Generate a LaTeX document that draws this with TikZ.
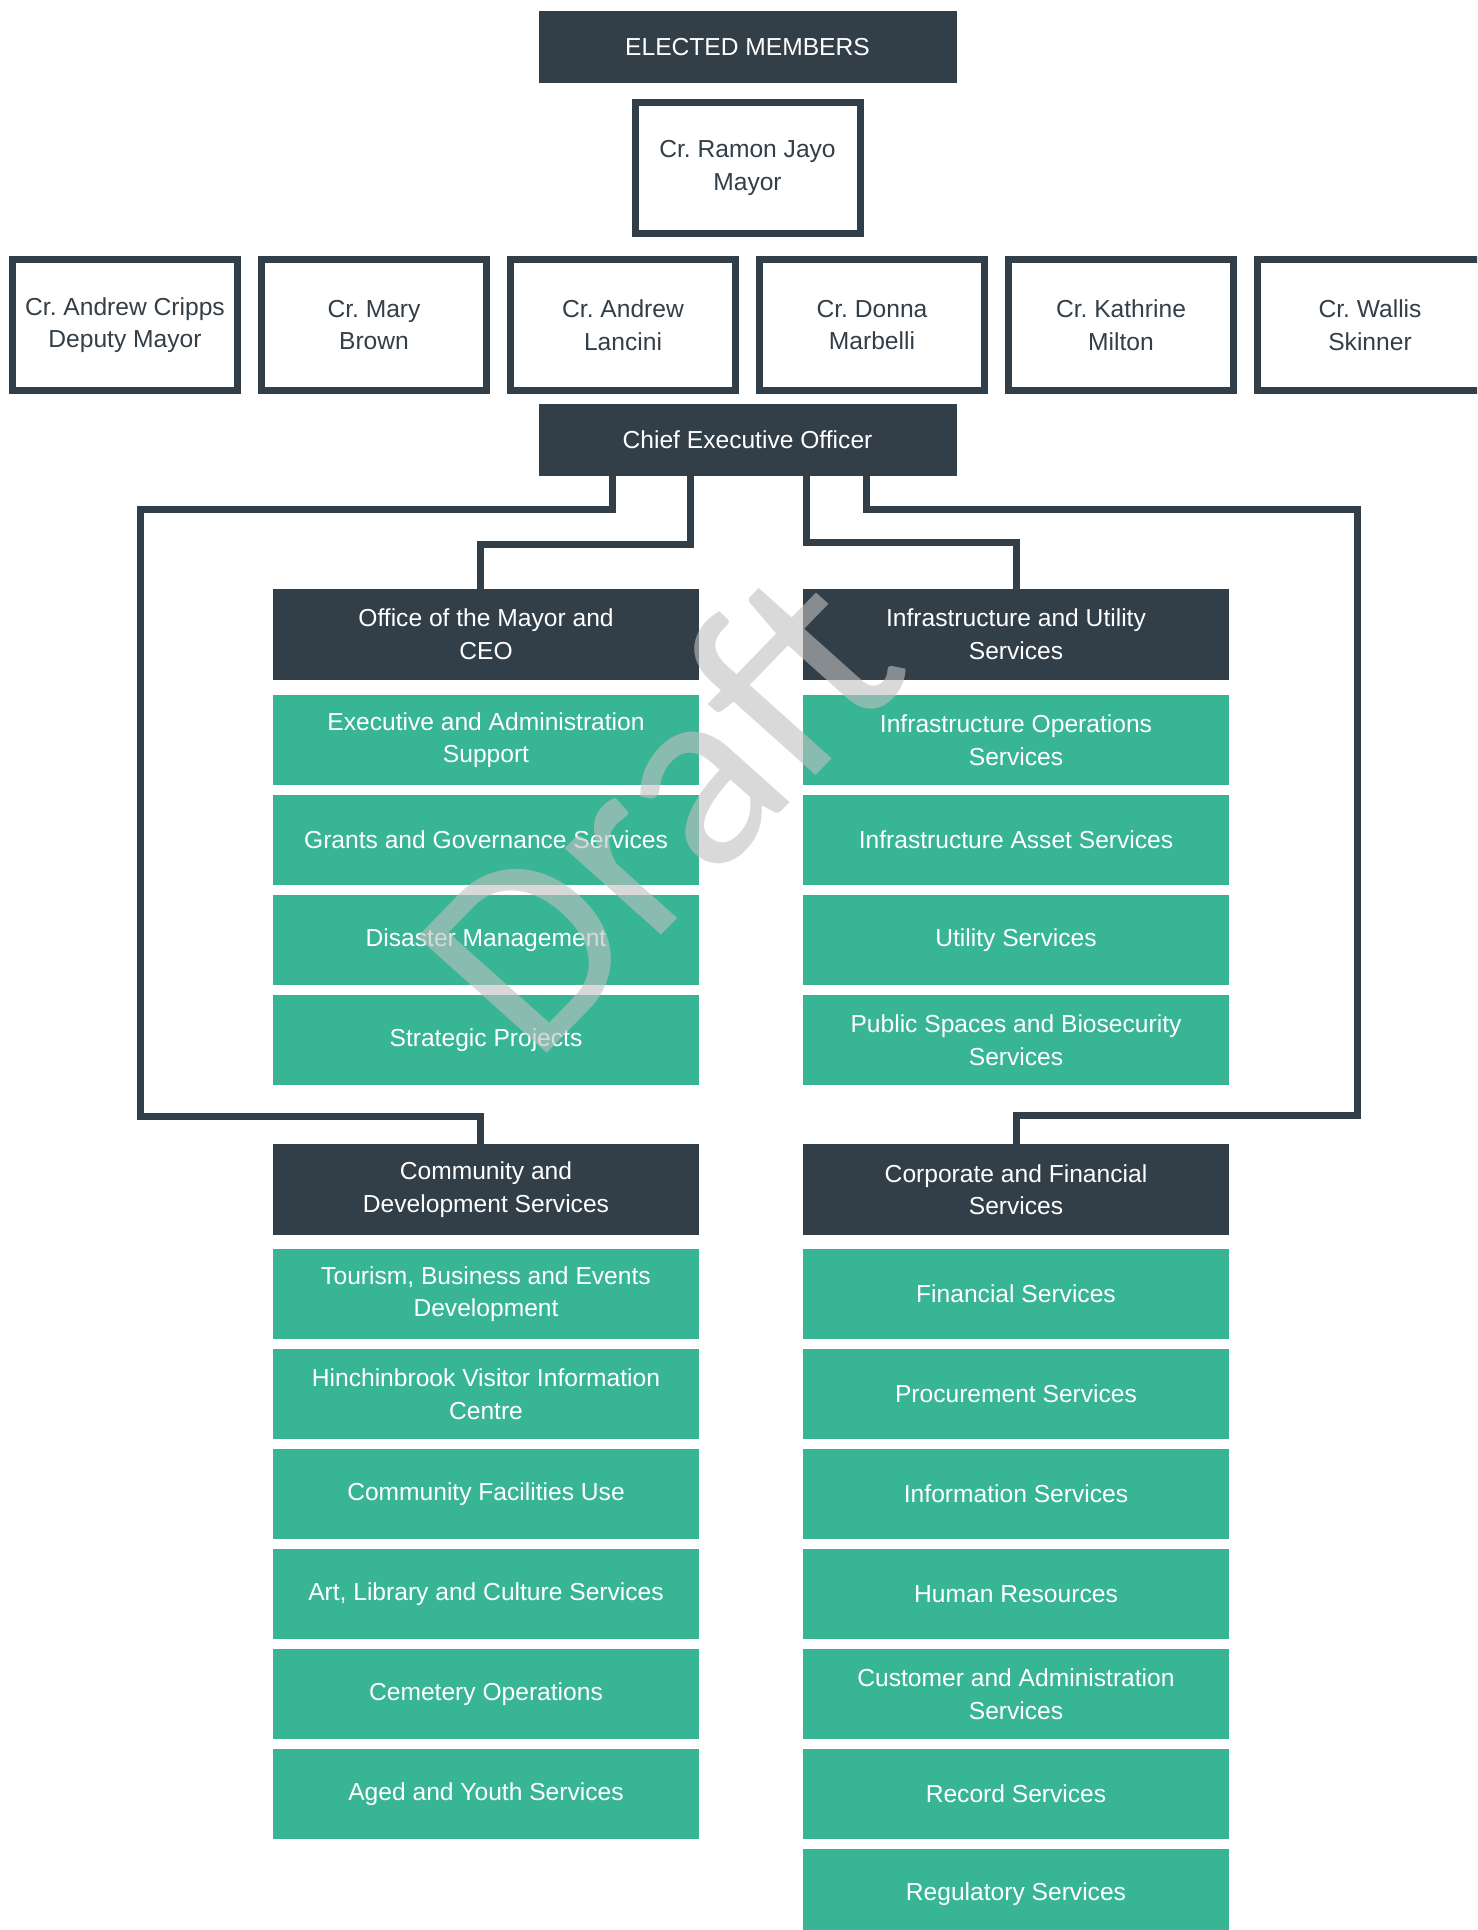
\documentclass[tikz,border=0pt]{standalone}
\usepackage{fontspec}
\setmainfont{Liberation Sans}
\newfontfamily\draftfont{Carlito}
\usepackage{tikz}
\definecolor{slate}{HTML}{323E48}
\definecolor{unitgreen}{HTML}{38B595}
\definecolor{draftgray}{RGB}{192,192,192}
\newcommand*\unitwd{213pt}
\newcommand*\unitht{45pt}
\newcommand*\seatwd{112.5pt}
\newcommand*\seatht{65.5pt}
\tikzset{
    boxtext/.style  = {font=\fontsize{12.3pt}{16.3pt}\selectfont,
                      align=center, inner sep=0pt, outer sep=0pt},
    topbox/.style   = {boxtext, fill=slate, text=white,
                      minimum width=209pt, minimum height=36pt},
    headbox/.style  = {boxtext, fill=slate, text=white,
                      minimum width=\unitwd, minimum height=45.5pt},
    unitbox/.style  = {headbox, fill=unitgreen, minimum height=\unitht},
    seatbox/.style  = {boxtext, draw=slate, line width=3.5pt, text=slate,
                      minimum width=\seatwd, minimum height=\seatht},
    link/.style     = {draw=slate, line width=3.5pt},
    watermark/.style= {font=\draftfont\fontsize{138pt}{138pt}\selectfont,
                      text=draftgray, text opacity=0.6, rotate=47, inner sep=0pt},
  }

\begin{document}
\frenchspacing
\begin{tikzpicture}[x=0.5pt, y=-0.5pt]
    \useasboundingbox (0,0) rectangle (1477,1930);
    \clip (0,0) rectangle (1477,1930);

    % Council on top
    \node[topbox]  (elected) at (747.5,47)  {ELECTED MEMBERS};
    \node[seatbox] (mayor)   at (747.5,168) {Cr. Ramon Jayo\\Mayor};
    \foreach \who [count=\i from 0] in {{Cr. Andrew Cripps\\Deputy Mayor},
        {Cr. Mary\\Brown}, {Cr. Andrew\\Lancini}, {Cr. Donna\\Marbelli},
        {Cr. Kathrine\\Milton}, {Cr. Wallis\\Skinner}} {
        \node[seatbox] (seat-\i) at (125+249*\i,325) {\who};
    }

    % CEO and the four directorates
    \node[topbox]  (ceo)   at (747.5,440)  {Chief Executive Officer};
    \node[headbox] (ofc)   at (486,634.5)  {Office of the Mayor and\\CEO};
    \node[headbox] (infra) at (1016,634.5) {Infrastructure and Utility\\Services};
    \node[headbox] (comm)  at (486,1189.5) {Community and\\Development Services};
    \node[headbox] (corp)  at (1016,1189.5){Corporate and Financial\\Services};

    % Units under each directorate
    \foreach \u [count=\k from 0] in {{Executive and Administration\\Support},
        {Grants and Governance Services}, {Disaster Management},
        {Strategic Projects}} {
        \node[unitbox] (ofc-\k) at (486,740+100*\k) {\u};
    }
    \foreach \u [count=\k from 0] in {{Infrastructure Operations\\Services},
        {Infrastructure Asset Services}, {Utility Services},
        {Public Spaces and Biosecurity\\Services}} {
        \node[unitbox] (infra-\k) at (1016,740+100*\k) {\u};
    }
    \foreach \u [count=\k from 0] in {{Tourism, Business and Events\\Development},
        {Hinchinbrook Visitor Information\\Centre}, {Community Facilities Use},
        {Art, Library and Culture Services}, {Cemetery Operations},
        {Aged and Youth Services}} {
        \node[unitbox] (comm-\k) at (486,1294+100*\k) {\u};
    }
    \foreach \u [count=\k from 0] in {{Financial Services},
        {Procurement Services}, {Information Services}, {Human Resources},
        {Customer and Administration\\Services}, {Record Services},
        {Regulatory Services}} {
        \node[unitbox] (corp-\k) at (1016,1294+100*\k) {\u};
    }

    % Lines from the CEO
    \coordinate (railL) at (140,510);
    \coordinate (footL) at (140,1116);
    \coordinate (railR) at (1357,510);
    \coordinate (footR) at (1357,1115);
    \draw[link] ([xshift=-67.75pt]ceo.south) |- (railL) -- (footL) -| ([xshift=-3pt]comm.north);
    \draw[link] ([xshift=-28.75pt]ceo.south) -- ++(0,69) -| ([xshift=-3pt]ofc.north);
    \draw[link] ([xshift=29.25pt]ceo.south) -- ++(0,66.5) -| (infra.north);
    \draw[link] ([xshift=59.25pt]ceo.south) |- (railR) -- (footR) -| (corp.north);

    % Watermark over everything
    \begin{scope}[shift={(657,808)}, yscale=0.96]
        \node[watermark, transform shape] (draft) at (0,0) {Draft};
    \end{scope}
\end{tikzpicture}
\end{document}
